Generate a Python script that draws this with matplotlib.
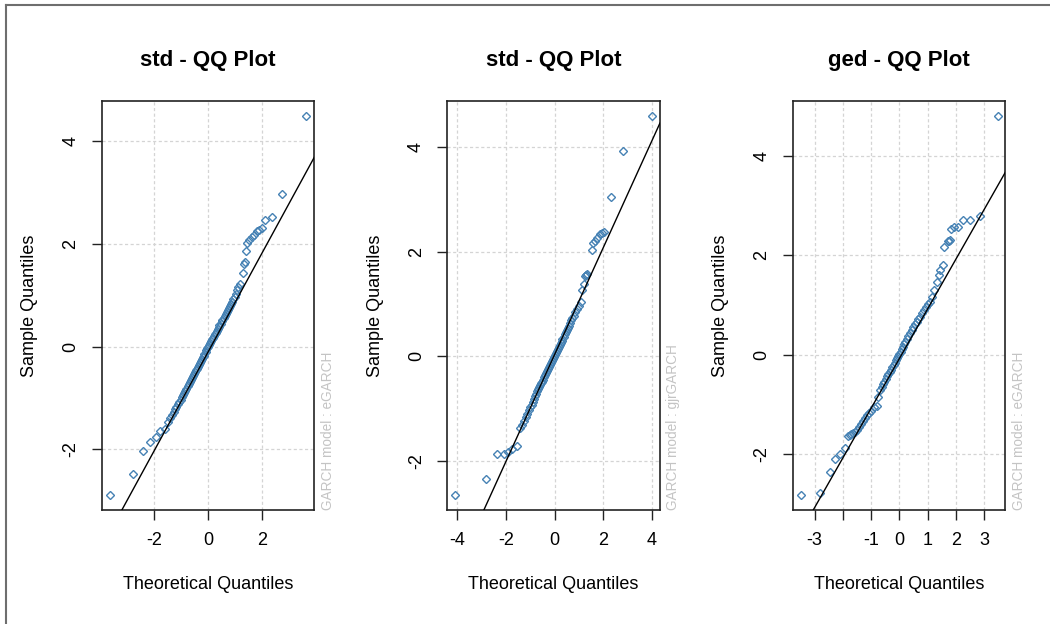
import matplotlib
matplotlib.use('Agg')
import matplotlib.pyplot as plt
from matplotlib.lines import Line2D

plt.rcParams['font.family'] = ['Liberation Sans', 'DejaVu Sans']
plt.rcParams['axes.unicode_minus'] = False

titles = ['std - QQ Plot', 'std - QQ Plot', 'ged - QQ Plot']
models = ['GARCH model : eGARCH', 'GARCH model : gjrGARCH', 'GARCH model : eGARCH']

# panel 1: std / eGARCH
theo1 = [-3.67, -2.79, -2.43, -2.15, -1.93, -1.78, -1.62, -1.50, -1.42, -1.35,
         -1.29, -1.24, -1.18, -1.13, -1.08, -1.03, -0.98, -0.93, -0.89, -0.85,
         -0.81, -0.77, -0.73, -0.69, -0.65, -0.61, -0.57, -0.53, -0.50, -0.46,
         -0.42, -0.39, -0.35, -0.31, -0.28, -0.24, -0.21, -0.17, -0.14, -0.10,
         -0.07, -0.03, 0.00, 0.03, 0.07, 0.10, 0.14, 0.17, 0.21, 0.24,
         0.28, 0.31, 0.35, 0.39, 0.42, 0.46, 0.50, 0.53, 0.57, 0.61,
         0.65, 0.69, 0.73, 0.77, 0.81, 0.85, 0.89, 0.93, 0.98, 1.03,
         1.08, 1.12, 1.19, 1.29, 1.35, 1.38, 1.41, 1.45, 1.53, 1.62,
         1.71, 1.81, 1.91, 2.00, 2.11, 2.37, 2.76, 3.66]
samp1 = [-2.89, -2.49, -2.03, -1.86, -1.77, -1.65, -1.60, -1.47, -1.40, -1.33,
         -1.27, -1.22, -1.17, -1.12, -1.08, -1.04, -0.99, -0.95, -0.90, -0.86,
         -0.82, -0.77, -0.73, -0.69, -0.66, -0.62, -0.58, -0.54, -0.50, -0.46,
         -0.43, -0.39, -0.36, -0.32, -0.28, -0.25, -0.21, -0.18, -0.14, -0.11,
         -0.07, -0.03, 0.00, 0.03, 0.07, 0.10, 0.14, 0.17, 0.20, 0.24,
         0.27, 0.31, 0.34, 0.38, 0.42, 0.45, 0.49, 0.52, 0.56, 0.60,
         0.63, 0.67, 0.71, 0.75, 0.79, 0.83, 0.87, 0.92, 0.97, 1.03,
         1.10, 1.16, 1.22, 1.44, 1.62, 1.65, 1.86, 2.02, 2.08, 2.13,
         2.18, 2.25, 2.28, 2.32, 2.47, 2.53, 2.97, 4.50]

# panel 2: std / gjrGARCH
theo2 = [-4.09, -2.82, -2.38, -2.10, -1.90, -1.76, -1.53, -1.41, -1.33, -1.26,
         -1.19, -1.13, -1.07, -1.00, -0.95, -0.90, -0.85, -0.80, -0.76, -0.72,
         -0.68, -0.64, -0.60, -0.56, -0.52, -0.48, -0.44, -0.40, -0.36, -0.32,
         -0.28, -0.24, -0.20, -0.16, -0.12, -0.08, -0.04, 0.00, 0.04, 0.08,
         0.12, 0.16, 0.20, 0.24, 0.28, 0.32, 0.37, 0.41, 0.45, 0.49,
         0.54, 0.58, 0.63, 0.68, 0.73, 0.78, 0.85, 0.92, 0.99, 1.06,
         1.13, 1.20, 1.24, 1.27, 1.30, 1.34, 1.54, 1.57, 1.64, 1.75,
         1.88, 1.95, 2.02, 2.33, 2.80, 4.00]
samp2 = [-2.64, -2.33, -1.87, -1.87, -1.83, -1.77, -1.70, -1.37, -1.30, -1.23,
         -1.16, -1.10, -1.03, -0.97, -0.92, -0.86, -0.81, -0.76, -0.71, -0.66,
         -0.62, -0.58, -0.55, -0.51, -0.48, -0.44, -0.40, -0.36, -0.32, -0.28,
         -0.24, -0.21, -0.17, -0.13, -0.09, -0.05, -0.02, 0.02, 0.06, 0.10,
         0.14, 0.18, 0.22, 0.26, 0.30, 0.33, 0.37, 0.42, 0.46, 0.50,
         0.54, 0.59, 0.64, 0.69, 0.74, 0.78, 0.85, 0.91, 0.97, 1.04,
         1.26, 1.39, 1.53, 1.55, 1.56, 1.57, 2.03, 2.17, 2.20, 2.25,
         2.33, 2.36, 2.38, 3.05, 3.91, 4.59]

# panel 3: ged / eGARCH
theo3 = [-3.49, -2.82, -2.46, -2.29, -2.11, -1.93, -1.82, -1.76, -1.70, -1.64,
         -1.58, -1.50, -1.43, -1.36, -1.28, -1.21, -1.14, -1.07, -0.99, -0.90,
         -0.81, -0.75, -0.69, -0.63, -0.58, -0.53, -0.48, -0.43, -0.39, -0.34,
         -0.30, -0.25, -0.21, -0.16, -0.12, -0.08, -0.04, 0.00, 0.04, 0.08,
         0.12, 0.17, 0.21, 0.26, 0.31, 0.37, 0.43, 0.49, 0.55, 0.61,
         0.67, 0.73, 0.80, 0.87, 0.95, 1.02, 1.08, 1.14, 1.22, 1.32,
         1.38, 1.44, 1.52, 1.58, 1.73, 1.75, 1.77, 1.82, 1.93, 2.06,
         2.24, 2.50, 2.83, 3.46]
samp3 = [-2.81, -2.78, -2.36, -2.09, -2.00, -1.86, -1.62, -1.61, -1.59, -1.57,
         -1.55, -1.50, -1.45, -1.39, -1.32, -1.26, -1.20, -1.16, -1.12, -1.05,
         -1.02, -0.85, -0.71, -0.65, -0.59, -0.54, -0.48, -0.43, -0.39, -0.35,
         -0.30, -0.25, -0.21, -0.16, -0.11, -0.07, -0.03, 0.02, 0.06, 0.11,
         0.16, 0.21, 0.26, 0.31, 0.37, 0.43, 0.49, 0.55, 0.61, 0.67,
         0.72, 0.76, 0.84, 0.91, 0.97, 1.03, 1.06, 1.16, 1.30, 1.46,
         1.60, 1.70, 1.80, 2.16, 2.28, 2.29, 2.31, 2.53, 2.56, 2.57,
         2.71, 2.71, 2.79, 4.80]

# qqline (through the quartiles)
qq_slope = [0.96, 1.02, 1.00]
qq_intercept = [-0.10, 0.04, -0.07]

x_ticks = [[-2, 0, 2], [-4, -2, 0, 2, 4], [-3, -2, -1, 0, 1, 2, 3]]
x_labels = [['-2', '0', '2'], ['-4', '-2', '0', '2', '4'],
            ['-3', '', '-1', '0', '1', '2', '3']]
y_ticks = [-2, 0, 2, 4]

theo = [theo1, theo2, theo3]
samp = [samp1, samp2, samp3]

fig = plt.figure(figsize=(10.5, 6.24), dpi=100)
lefts = [0.0969, 0.426, 0.755]

for i in range(3):
    ax = fig.add_axes([lefts[i], 0.1827, 0.2025, 0.656])
    xs, ys = theo[i], samp[i]
    ax.plot(xs, ys, linestyle='none', marker='D', ms=3.6, mfc='none',
            mec='#4682B4', mew=1.0, zorder=3)
    # R style limits: data range + 4%
    xr = max(xs) - min(xs)
    yr = max(ys) - min(ys)
    ax.set_xlim(min(xs) - 0.04 * xr, max(xs) + 0.04 * xr)
    ax.set_ylim(min(ys) - 0.04 * yr, max(ys) + 0.04 * yr)
    ax.axline((0, qq_intercept[i]), slope=qq_slope[i], color='black', lw=1, zorder=4)

    ax.set_xticks(x_ticks[i])
    ax.set_xticklabels(x_labels[i])
    ax.set_yticks(y_ticks)
    ax.set_yticklabels([str(v) for v in y_ticks], rotation=90, va='center')
    ax.grid(True, color='#d4d4d4', linestyle=(0, (2.5, 2)), lw=0.9)
    ax.set_axisbelow(True)
    ax.tick_params(direction='out', length=7.2, width=1, color='#222222',
                   labelsize=13, pad=9)
    for s in ax.spines.values():
        s.set_color('#222222')
        s.set_linewidth(1.2)

    ax.set_title(titles[i], fontsize=16, fontweight='bold', y=1.099, va='center', pad=0)
    ax.set_xlabel('Theoretical Quantiles', fontsize=13)
    ax.xaxis.set_label_coords(0.5, -0.183)
    ax.xaxis.label.set_va('center')
    ax.set_ylabel('Sample Quantiles', fontsize=13)
    ax.yaxis.set_label_coords(-0.338, 0.5)
    ax.yaxis.label.set_va('center')

    ax.text(1.0635, 0, models[i], transform=ax.transAxes, rotation=90,
            ha='center', va='bottom', fontsize=9.8, color='#c4c4c4')

# window frame (top and left edge)
fig.add_artist(Line2D([5.7 / 1050, 1], [1 - 5 / 624, 1 - 5 / 624],
                      transform=fig.transFigure, color='#6e6e6e', lw=1.5))
fig.add_artist(Line2D([5.7 / 1050, 5.7 / 1050], [0, 1 - 5 / 624],
                      transform=fig.transFigure, color='#6e6e6e', lw=1.5))

fig.savefig('out.png', dpi=100)
